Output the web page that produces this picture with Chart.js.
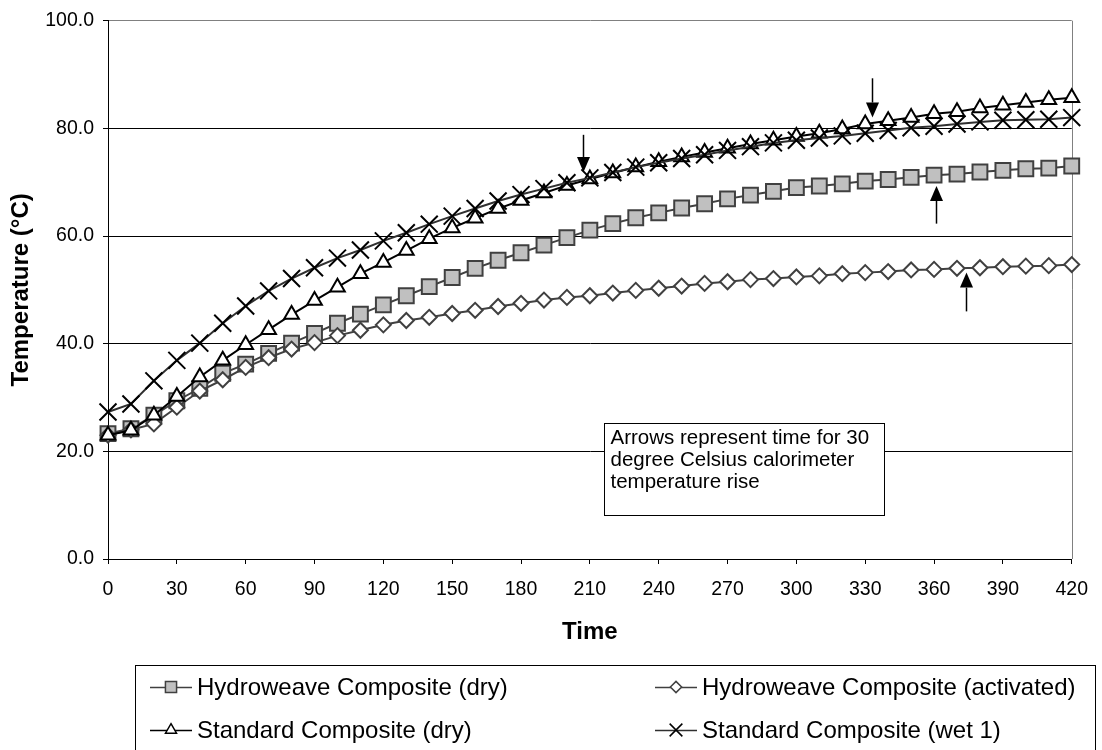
<!DOCTYPE html>
<html>
<head>
<meta charset="utf-8">
<title>Calorimeter temperature rise</title>
<script src="https://cdn.jsdelivr.net/npm/chart.js@4.4.1/dist/chart.umd.min.js"></script>
<style>
  html, body { margin: 0; padding: 0; background: #fff; }
  #wrap { width: 1102px; height: 750px; }
</style>
</head>
<body>
<div id="wrap"><canvas id="tempChart"></canvas></div>
<script>
// Data (one reading every 10 time units)
const times = [0, 10, 20, 30, 40, 50, 60, 70, 80, 90, 100, 110, 120, 130, 140, 150,
  160, 170, 180, 190, 200, 210, 220, 230, 240, 250, 260, 270, 280, 290, 300,
  310, 320, 330, 340, 350, 360, 370, 380, 390, 400, 410, 420];

const hydroDry = [23.3, 24.2, 26.7, 29.4, 31.7, 34.5, 36.2, 38.2, 40.1, 41.9, 43.8,
  45.5, 47.2, 48.9, 50.6, 52.3, 54.0, 55.5, 56.9, 58.3, 59.7, 61.1, 62.3, 63.4,
  64.3, 65.2, 66.0, 66.9, 67.6, 68.3, 69.0, 69.3, 69.7, 70.2, 70.5, 70.9, 71.3,
  71.5, 71.9, 72.2, 72.5, 72.6, 73.0];

const hydroActivated = [23.0, 24.0, 25.1, 28.2, 31.2, 33.3, 35.6, 37.4, 39.0, 40.2, 41.5,
  42.5, 43.5, 44.3, 44.9, 45.6, 46.2, 46.9, 47.5, 48.1, 48.6, 48.9, 49.4, 49.9,
  50.3, 50.7, 51.2, 51.5, 51.9, 52.1, 52.4, 52.6, 53.0, 53.2, 53.4, 53.7, 53.8,
  54.0, 54.1, 54.3, 54.4, 54.5, 54.7];

const standardDry = [23.0, 23.9, 26.7, 30.2, 33.8, 36.9, 39.8, 42.6, 45.4, 48.0, 50.5,
  53.0, 55.1, 57.3, 59.5, 61.5, 63.3, 65.1, 66.6, 68.0, 69.4, 70.6, 71.7, 72.8,
  73.8, 74.7, 75.5, 76.3, 77.1, 77.8, 78.5, 79.1, 79.9, 80.8, 81.4, 82.0, 82.7,
  83.1, 83.8, 84.3, 84.8, 85.3, 85.7];

const standardWet1 = [27.3, 28.8, 33.1, 36.9, 40.1, 43.8, 47.0, 49.8, 52.1, 54.1, 55.9,
  57.4, 59.1, 60.6, 62.2, 63.7, 65.1, 66.5, 67.7, 68.8, 69.9, 70.8, 71.8, 72.8,
  73.6, 74.4, 75.1, 75.9, 76.6, 77.3, 77.8, 78.2, 78.6, 79.1, 79.6, 80.1, 80.4,
  80.8, 81.2, 81.5, 81.6, 81.7, 82.0];

const seriesLabels = [
  "Hydroweave Composite (dry)",
  "Hydroweave Composite (activated)",
  "Standard Composite (dry)",
  "Standard Composite (wet 1)",
];

// Arrows: time and temperature at tail / tip
const arrowTimes = [207, 333, 361, 374];
const arrowFrom = [78.8, 89.3, 62.3, 46.0];
const arrowTo = [71.9, 82.0, 69.3, 53.2];

const noteLines = [
  "Arrows represent time for 30",
  "degree Celsius calorimeter",
  "temperature rise",
];

const FONT = '"Liberation Sans", Arial, sans-serif';

function toPoints(values) {
  return times.map((t, i) => ({ x: t, y: values[i] }));
}

const datasets = [
  {
    label: seriesLabels[0],
    data: toPoints(hydroDry),
    borderColor: "#404040",
    borderWidth: 2,
    pointStyle: "rect",
    pointRadius: 10.5,
    pointBackgroundColor: "#c0c0c0",
    pointBorderColor: "#404040",
    pointBorderWidth: 2,
    order: 4,
  },
  {
    label: seriesLabels[1],
    data: toPoints(hydroActivated),
    borderColor: "#404040",
    borderWidth: 2,
    pointStyle: "rectRot",
    pointRadius: 7.5,
    pointBackgroundColor: "#ffffff",
    pointBorderColor: "#404040",
    pointBorderWidth: 2,
    order: 3,
  },
  {
    label: seriesLabels[2],
    data: toPoints(standardDry),
    borderColor: "#000000",
    borderWidth: 2,
    pointStyle: "triangle",
    pointRadius: 8.5,
    pointBackgroundColor: "#ffffff",
    pointBorderColor: "#000000",
    pointBorderWidth: 2,
    order: 2,
  },
  {
    label: seriesLabels[3],
    data: toPoints(standardWet1),
    borderColor: "#303030",
    borderWidth: 2,
    pointStyle: "crossRot",
    pointRadius: 12,
    pointBackgroundColor: "#000000",
    pointBorderColor: "#000000",
    pointBorderWidth: 2,
    order: 1,
  },
];
datasets.forEach((d) => {
  d.fill = false;
  d.tension = 0;
  d.clip = false;
});

// marker drawing used by the hand-made legend
function drawMarker(ctx, ds, x, y, scale) {
  ctx.save();
  ctx.fillStyle = ds.pointBackgroundColor;
  ctx.strokeStyle = ds.pointBorderColor;
  ctx.lineWidth = 1.5;
  Chart.helpers.drawPoint(ctx, {
    pointStyle: ds.pointStyle,
    rotation: 0,
    radius: ds.pointRadius * scale,
    borderWidth: 1.5,
  }, x, y);
  ctx.restore();
}

const decorations = {
  id: "decorations",
  beforeDatasetsDraw(chart) {
    const { ctx, chartArea: a } = chart;
    // grey right edge of the plot area
    ctx.save();
    ctx.strokeStyle = "#808080";
    ctx.lineWidth = 1;
    ctx.beginPath();
    ctx.moveTo(Math.round(a.right) + 0.5, a.top);
    ctx.lineTo(Math.round(a.right) + 0.5, a.bottom);
    ctx.stroke();
    ctx.restore();
  },
  afterDatasetsDraw(chart) {
    const { ctx } = chart;
    const xs = chart.scales.x;
    const ys = chart.scales.y;

    // note box, anchored in data space
    const left = Math.round(xs.getPixelForValue(216)) + 0.5;
    const right = Math.round(xs.getPixelForValue(338)) + 0.5;
    const top = Math.round(ys.getPixelForValue(25.2)) + 0.5;
    const bottom = Math.round(ys.getPixelForValue(8.1)) + 0.5;
    ctx.save();
    ctx.fillStyle = "#fff";
    ctx.fillRect(left, top, right - left, bottom - top);
    ctx.strokeStyle = "#000";
    ctx.lineWidth = 1;
    ctx.strokeRect(left, top, right - left, bottom - top);
    ctx.fillStyle = "#000";
    ctx.font = "20.5px " + FONT;
    ctx.textBaseline = "middle";
    noteLines.forEach((line, i) => {
      ctx.fillText(line, left + 6, top + 15 + i * 22);
    });

    // arrows
    ctx.strokeStyle = "#000";
    ctx.fillStyle = "#000";
    ctx.lineWidth = 1.5;
    arrowTimes.forEach((t, i) => {
      const x = Math.round(xs.getPixelForValue(t)) + 0.5;
      const y1 = ys.getPixelForValue(arrowFrom[i]);
      const y2 = ys.getPixelForValue(arrowTo[i]);
      const dir = y2 > y1 ? 1 : -1;
      const headLen = 15;
      const headHalf = 6.5;
      ctx.beginPath();
      ctx.moveTo(x, y1);
      ctx.lineTo(x, y2 - dir * headLen);
      ctx.stroke();
      ctx.beginPath();
      ctx.moveTo(x, y2);
      ctx.lineTo(x - headHalf, y2 - dir * headLen);
      ctx.lineTo(x + headHalf, y2 - dir * headLen);
      ctx.closePath();
      ctx.fill();
    });
    ctx.restore();
  },
  afterDraw(chart) {
    const { ctx } = chart;
    const ds = chart.data.datasets;
    // legend box (runs off the bottom of the picture)
    const boxLeft = 135.5, boxTop = 665.5, boxRight = 1095.5, boxBottom = 770;
    ctx.save();
    ctx.strokeStyle = "#000";
    ctx.lineWidth = 1;
    ctx.strokeRect(boxLeft, boxTop, boxRight - boxLeft, boxBottom - boxTop);

    const cols = [150, 655];
    const rows = [687, 730];
    ctx.font = "24px " + FONT;
    ctx.textBaseline = "middle";
    ds.forEach((d, i) => {
      const x0 = cols[i % 2];
      const y = rows[Math.floor(i / 2)];
      ctx.strokeStyle = d.borderColor;
      ctx.lineWidth = 1.5;
      ctx.beginPath();
      ctx.moveTo(x0, y + 0.5);
      ctx.lineTo(x0 + 42, y + 0.5);
      ctx.stroke();
      drawMarker(ctx, d, x0 + 21, y, 0.75);
      ctx.fillStyle = "#000";
      ctx.fillText(d.label, x0 + 47, y + 1);
    });
    ctx.restore();
  },
};

const ctx = document.getElementById("tempChart").getContext("2d");

new Chart(ctx, {
  type: "line",
  data: { datasets: datasets },
  options: {
    responsive: true,
    maintainAspectRatio: false,
    animation: false,
    layout: { padding: { left: 0, top: 19, right: 25, bottom: 91 } },
    plugins: {
      legend: { display: false },
      tooltip: { enabled: false },
    },
    scales: {
      x: {
        type: "linear",
        min: 0,
        max: 420,
        afterFit: (s) => { s.height = 100; },
        ticks: {
          stepSize: 30,
          autoSkip: false,
          maxRotation: 0,
          padding: 14,
          color: "#000",
          font: { family: FONT, size: 19.5 },
        },
        grid: { drawOnChartArea: false, tickLength: 5, color: "#000" },
        border: { color: "#000", width: 1 },
        title: {
          display: true,
          text: "Time",
          color: "#000",
          font: { family: FONT, size: 24, weight: "bold" },
          padding: { top: 0, bottom: 12 },
        },
      },
      y: {
        min: 0,
        max: 100,
        afterFit: (s) => { s.width = 108; },
        ticks: {
          stepSize: 20,
          padding: 9,
          color: "#000",
          font: { family: FONT, size: 19.5 },
          callback: (v) => v.toFixed(1),
        },
        grid: {
          color: (c) => (c.tick && c.tick.value === 100 ? "#808080" : "#000"),
          tickColor: "#000",
          tickLength: 5,
          lineWidth: 1,
        },
        border: { color: "#000", width: 1 },
        title: {
          display: true,
          text: "Temperature (°C)",
          color: "#000",
          font: { family: FONT, size: 24, weight: "bold" },
          padding: { top: 7, bottom: 0 },
        },
      },
    },
  },
  plugins: [decorations],
});
</script>
</body>
</html>
